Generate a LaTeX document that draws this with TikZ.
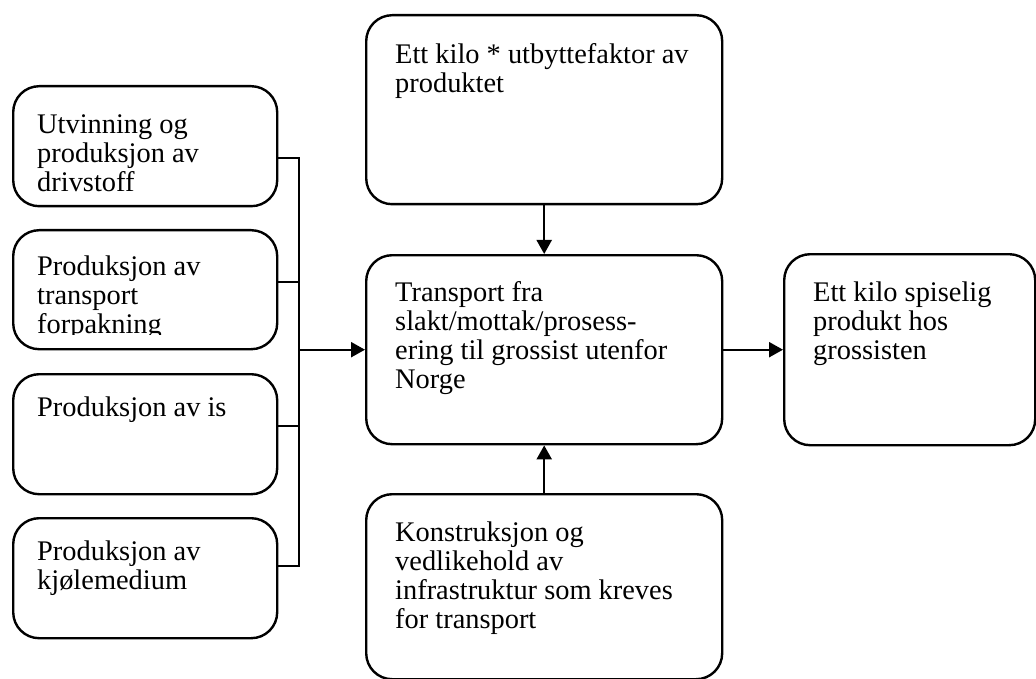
\documentclass[tikz,border=0pt]{standalone}
\usepackage{fontspec}
\setmainfont{Liberation Serif}
\usetikzlibrary{arrows.meta}

\tikzset{
  box/.style={draw, line width=2.4pt, rounded corners=26pt, anchor=north west, inner sep=0pt},
  boxtext/.style={anchor=north west, align=left, inner sep=0pt, font=\fontsize{28.4}{29}\selectfont},
  conn/.style={line width=2.2pt},
  arr/.style={conn, -{Triangle[length=14pt,width=15pt]}},
}

\begin{document}
\begin{tikzpicture}[x=1pt,y=-1pt]
        \useasboundingbox (0,0) rectangle (1036,679);

        % Inputs on the left
        \node[box, minimum width=264pt, minimum height=120pt] (b1) at (12,85) {};
        \node[box, minimum width=264pt, minimum height=119pt] (b2) at (12,229) {};
        \node[box, minimum width=264pt, minimum height=120pt] (b3) at (12,373) {};
        \node[box, minimum width=264pt, minimum height=120pt] (b4) at (12,517) {};
        \node[boxtext] (b1t) at ([shift={(25pt,-29pt)}]b1.north west) {Utvinning og\\produksjon av\\drivstoff};
        \begin{scope}
          \clip (12,229) rectangle (276,334);
          \node[boxtext] (b2t) at ([shift={(25pt,-27pt)}]b2.north west) {Produksjon av\\transport\\forpakning};
        \end{scope}
        \node[boxtext] (b3t) at ([shift={(25pt,-24pt)}]b3.north west) {Produksjon av is};
        \node[boxtext] (b4t) at ([shift={(25pt,-24pt)}]b4.north west) {Produksjon av\\kjølemedium};

        % Middle column
        \node[box, minimum width=356pt, minimum height=189pt] (src) at (365,14) {};
        \node[box, minimum width=356pt, minimum height=189pt] (mid) at (365,254) {};
        \node[box, minimum width=356pt, minimum height=185pt] (infra) at (365,493) {};
        \node[boxtext] (srct) at ([shift={(30pt,-29pt)}]src.north west) {Ett kilo * utbyttefaktor av\\produktet};
        \node[boxtext] (midt) at ([shift={(30pt,-27pt)}]mid.north west) {Transport fra\\slakt/mottak/prosess-\\ering til grossist utenfor\\Norge};
        \node[boxtext] (infrat) at ([shift={(30pt,-29pt)}]infra.north west) {Konstruksjon og\\vedlikehold av\\infrastruktur som kreves\\for transport};

        % Output on the right
        \node[box, minimum width=251pt, minimum height=191pt] (out) at (783,253) {};
        \node[boxtext] (outt) at ([shift={(30pt,-29pt)}]out.north west) {Ett kilo spiselig\\produkt hos\\grossisten};

        % Collector line for the inputs
        \coordinate (bus) at ([xshift=-66pt]mid.west);
        \draw[conn] ([yshift=-12pt]b1.east) -| (bus);
        \draw[conn] ([yshift=12pt]b4.east) -| (bus);
        \draw[conn] ([yshift=8pt]b2.east) -- ([yshift=8pt]b2.east -| bus);
        \draw[conn] ([yshift=8pt]b3.east) -- ([yshift=8pt]b3.east -| bus);
        \draw[arr] (bus) -- (mid.west);

        % Arrows into and out of the transport step
        \draw[arr] (src.south) -- (mid.north);
        \draw[arr] (infra.north) -- (mid.south);
        \draw[arr] (mid.east) -- (out.west);
\end{tikzpicture}
\end{document}
